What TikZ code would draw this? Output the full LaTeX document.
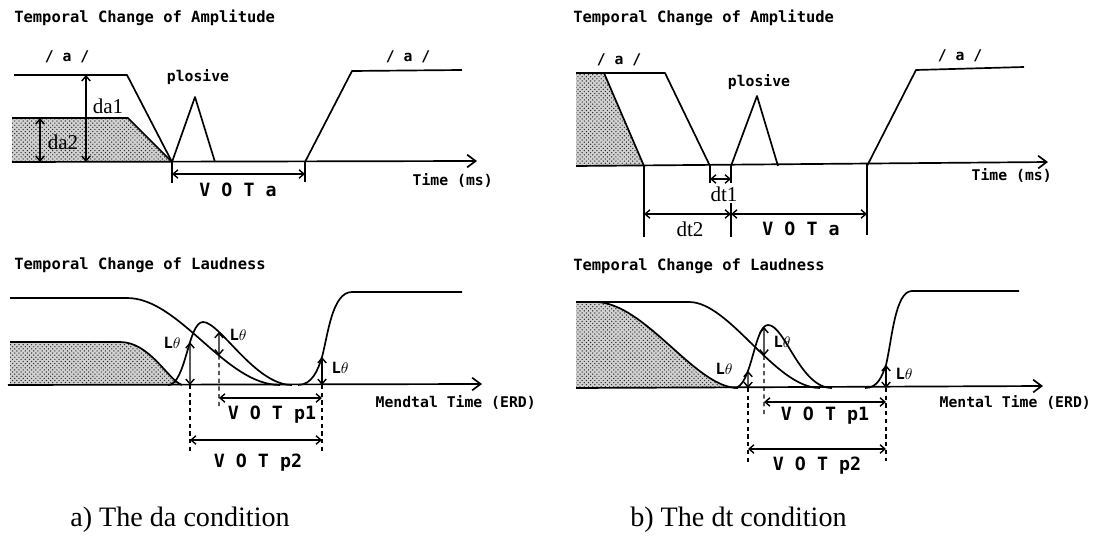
\documentclass[tikz,border=0pt]{standalone}
\usepackage{fontspec}
\setmainfont{Liberation Serif}
\newfontfamily\dotfont{DejaVu Sans Mono}
\usetikzlibrary{arrows.meta,patterns,intersections}

\begin{document}
\begin{tikzpicture}[
    x=0.025cm, y=-0.025cm,
    every node/.style={inner sep=1pt},
    curve/.style={line width=1.2pt, line join=round},
    axis/.style={line width=1.2pt, -{Straight Barb[length=6pt,width=9pt]}},
    dim/.style={line width=1pt, {Straight Barb[length=3.5pt,width=6pt]}-{Straight Barb[length=3.5pt,width=6pt]}},
    guide/.style={line width=1.1pt},
    dguide/.style={line width=1pt, dash pattern=on 3pt off 2.5pt},
    shade/.style={pattern=crosshatch dots, pattern color=black!85, preaction={fill=black!18}},
    ttl/.style={font=\dotfont\bfseries\fontsize{11}{12}\selectfont, anchor=west, inner sep=0pt},
    lbl/.style={font=\dotfont\bfseries\fontsize{10.5}{12}\selectfont},
    meas/.style={font=\fontsize{15}{16}\selectfont},
    vot/.style={font=\dotfont\bfseries\fontsize{13}{14}\selectfont},
    thr/.style={font=\dotfont\bfseries\fontsize{11}{12}\selectfont},
    capline/.style={font=\fontsize{20}{24}\selectfont, anchor=west, inner sep=0pt}
]
\useasboundingbox (0,0) rectangle (1107,545);

% a) amplitude
\node[ttl] (ampA) at (14,18) {Temporal Change of Amplitude};
\fill[shade] (12,118) -- (128,118) -- (172,162) -- (12,162) -- cycle;
\draw[curve] (12,118) -- (128,118) -- (172,162);
\draw[curve] (14,75) -- (127,75) -- (172,162);
\draw[curve] (172,162) -- (195,97) -- (215,162);
\draw[curve] (305,162) -- (352,71) -- (462,70);
\draw[axis] (12,162) -- (477,161);
\coordinate (vowA) at (172,162);
\coordinate (relA) at (305,162);
\draw[dim] (86,75) -- (86,162);
\draw[dim] (40,118) -- (40,162);
\draw[guide] (vowA) -- (172,183);
\draw[guide] (relA) -- (305,182);
\draw[dim] (172,174) -- (305,174);
\node[meas] (da1) at (108,106) {da1};
\node[meas] (da2) at (63,142) {da2};
\node[vot] (votaA) at (238,190) {V O T a};
\node[lbl] (vowlA) at (67,57) {/ a /};
\node[lbl] (vowrA) at (408,57) {/ a /};
\node[lbl] (plosA) at (198,77) {plosive};
\node[lbl, anchor=west] (timeA) at (411,180) {Time (ms)};

% a) loudness
\node[ttl] (loudA) at (14,265) {Temporal Change of Laudness};
\fill[shade] (10,342) -- (120,342) .. controls (150,342) and (168,380) .. (182,385) -- (10,385) -- cycle;
\draw[curve] (10,342) -- (120,342) .. controls (150,342) and (168,380) .. (182,385);
\draw[curve, name path=upA] (10,298) -- (127,298) .. controls (180,298) and (225,385) .. (280,385);
\draw[curve, name path=bumpA] (168,385) .. controls (186,385) and (188,322) .. (203,322) .. controls (220,322) and (255,385) .. (292,385);
\draw[curve] (298,385) .. controls (312,385) and (318,370) .. (322,357) .. controls (328,335) and (332,292) .. (352,292) -- (462,292);
\draw[axis] (8,385) -- (482,384);
\path[name path=cutA1] (190,280) -- (190,400);
\path[name path=cutA2] (219,280) -- (219,400);
\path[name intersections={of=bumpA and cutA1, by=bA1}];
\path[name intersections={of=bumpA and cutA2, by=bA2}];
\path[name intersections={of=upA and cutA2, by=uA2}];
\draw[dim] (bA1) -- (190,385);
\draw[dim] (bA2) -- (uA2);
\draw[dim] (322,357) -- (322,385);
\draw[dguide] (190,385) -- (190,453);
\draw[dguide] (uA2) -- (219,407);
\draw[dguide] (322,385) -- (322,453);
\draw[dim] (219,398) -- (322,398);
\draw[dim] (190,440) -- (322,440);
\node[thr] (thA1) at (172,343) {L$\theta$};
\node[thr] (thA2) at (238,335) {L$\theta$};
\node[thr] (thA3) at (340,368) {L$\theta$};
\node[vot] (vp1A) at (272,415) {V O T p1};
\node[vot] (vp2A) at (258,463) {V O T p2};
\node[lbl, anchor=west] (erdA) at (374,402) {Mendtal Time (ERD)};

% b) amplitude
\node[ttl] (ampB) at (573,18) {Temporal Change of Amplitude};
\fill[shade] (576,73) -- (604,73) -- (644,166) -- (576,166) -- cycle;
\draw[curve] (604,73) -- (644,166);
\draw[curve] (576,73) -- (665,73) -- (710,166);
\draw[curve] (731,166) -- (757,96) -- (778,166);
\draw[curve] (867,166) -- (916,70) -- (1024,67);
\draw[axis] (576,166) -- (1048,162);
\draw[guide] (710,166) -- (710,183);
\draw[guide] (731,166) -- (731,183);
\draw[guide] (644,166) -- (644,237);
\draw[guide] (731,203) -- (731,237);
\draw[guide] (867,164) -- (867,235);
\draw[dim] (710,179) -- (731,179);
\draw[dim] (644,214) -- (731,214);
\draw[dim] (731,214) -- (867,214);
\node[meas] (dt1) at (724,194) {dt1};
\node[meas] (dt2) at (690,229) {dt2};
\node[vot] (votaB) at (801,229) {V O T a};
\node[lbl] (vowlB) at (619,60) {/ a /};
\node[lbl] (vowrB) at (960,56) {/ a /};
\node[lbl] (plosB) at (759,82) {plosive};
\node[lbl, anchor=west] (timeB) at (970,175) {Time (ms)};

% b) loudness
\node[ttl] (loudB) at (573,266) {Temporal Change of Laudness};
\fill[shade] (576,302) -- (595,302) .. controls (645,302) and (695,388) .. (738,388) -- (576,388) -- cycle;
\draw[curve] (576,302) -- (595,302) .. controls (645,302) and (695,388) .. (738,388);
\draw[curve, name path=upB] (576,302) -- (689,302) .. controls (730,302) and (775,388) .. (820,388);
\draw[curve, name path=bumpB] (734,388) .. controls (752,388) and (754,325) .. (768,325) .. controls (785,325) and (800,388) .. (832,388);
\draw[curve] (865,388) .. controls (878,388) and (882,376) .. (886,365) .. controls (892,340) and (895,291) .. (912,291) -- (1019,291);
\draw[axis] (576,388) -- (1043,386);
\path[name path=cutB1] (748,280) -- (748,400);
\path[name path=cutB2] (764,280) -- (764,400);
\path[name intersections={of=bumpB and cutB1, by=bB1}];
\path[name intersections={of=bumpB and cutB2, by=bB2}];
\path[name intersections={of=upB and cutB2, by=uB2}];
\draw[dim] (bB1) -- (748,388);
\draw[dim] (bB2) -- (uB2);
\draw[dim] (886,365) -- (886,388);
\draw[dguide] (748,388) -- (748,463);
\draw[dguide] (uB2) -- (764,417);
\draw[dguide] (886,388) -- (886,461);
\draw[dim] (764,402) -- (886,402);
\draw[dim] (748,449) -- (886,449);
\node[thr] (thB1) at (724,369) {L$\theta$};
\node[thr] (thB2) at (782,342) {L$\theta$};
\node[thr] (thB3) at (904,374) {L$\theta$};
\node[vot] (vp1B) at (825,416) {V O T p1};
\node[vot] (vp2B) at (817,466) {V O T p2};
\node[lbl, anchor=west] (erdB) at (938,402) {Mental Time (ERD)};

\node[capline] (capA) at (70,520) {a) The da condition};
\node[capline] (capB) at (630,520) {b) The dt condition};

\end{tikzpicture}
\end{document}
